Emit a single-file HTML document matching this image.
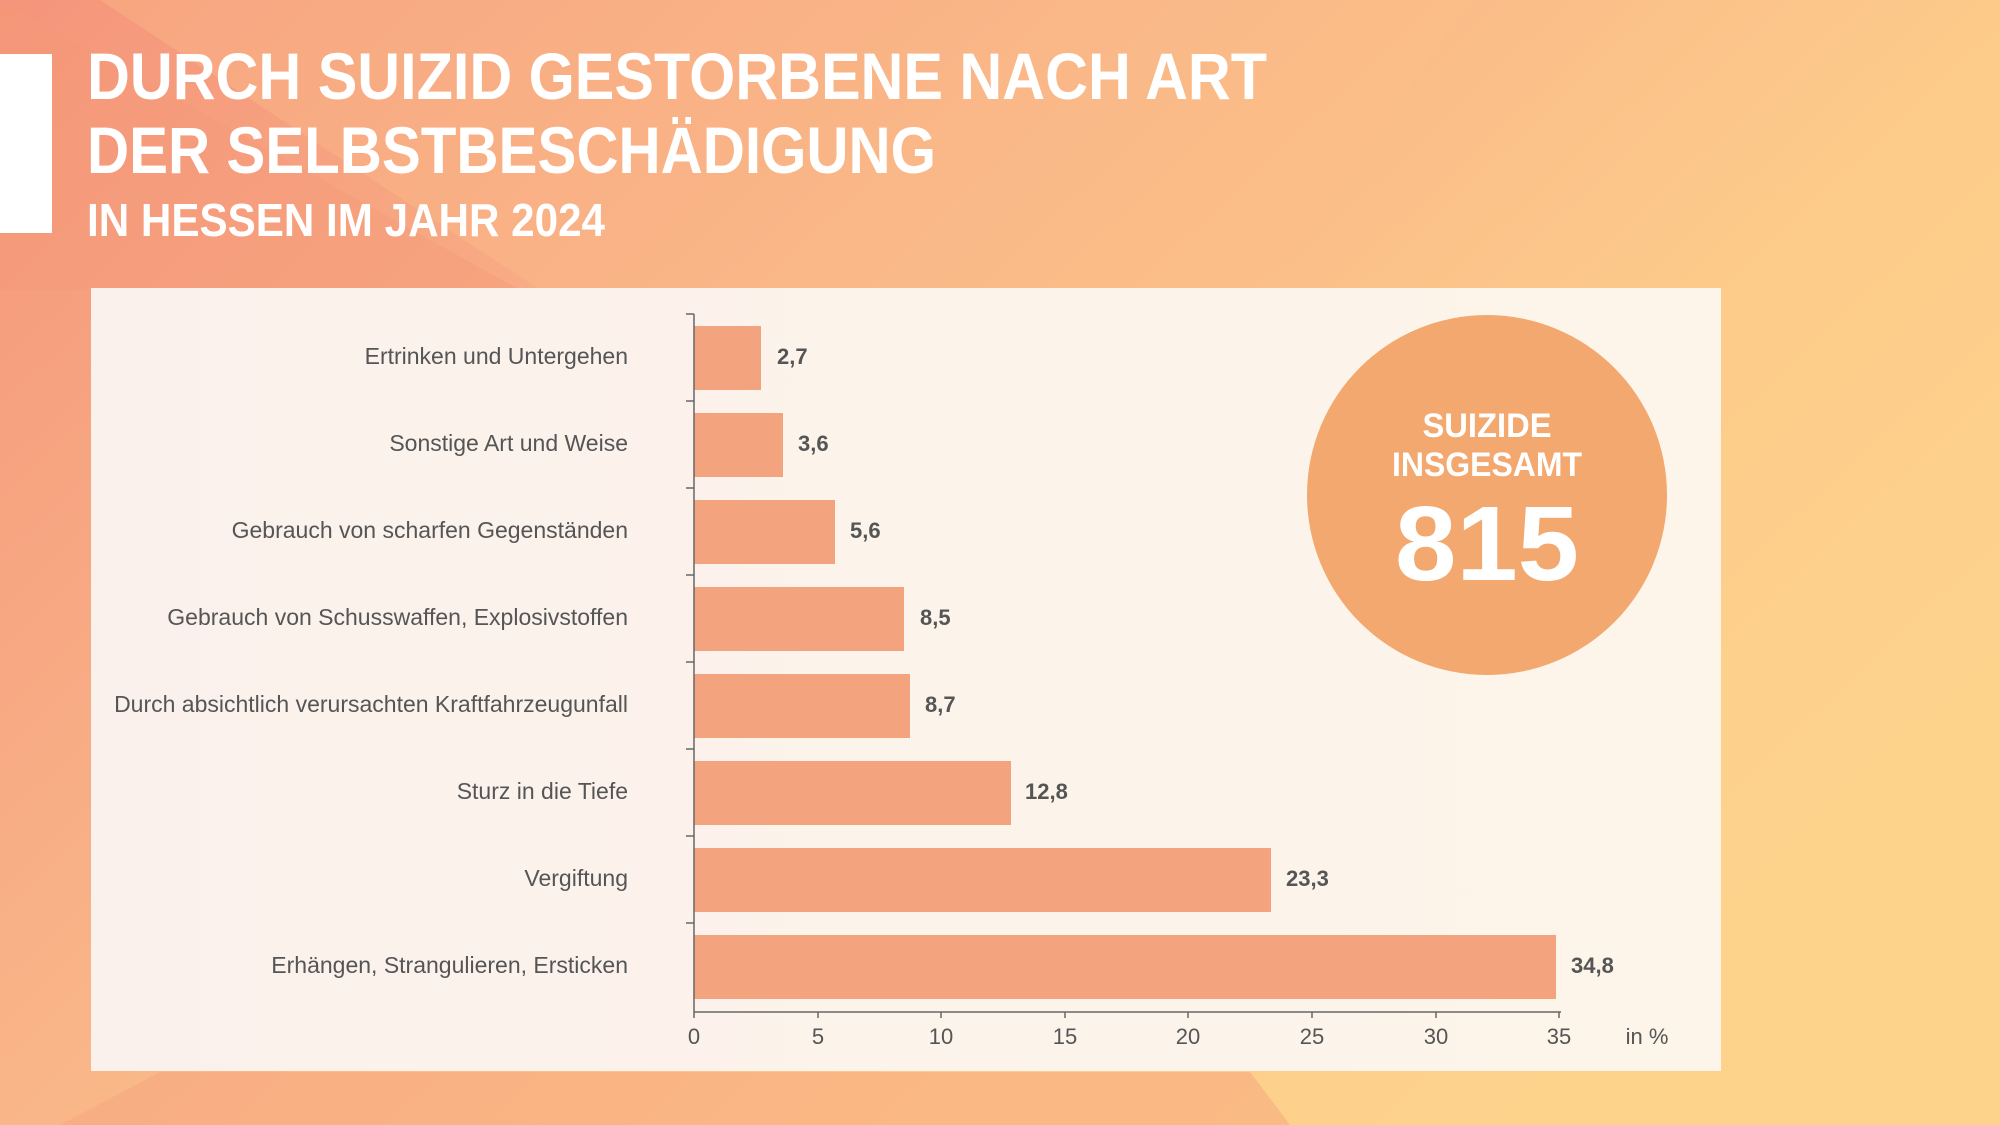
<!DOCTYPE html>
<html><head><meta charset="utf-8"><style>html,body{margin:0;padding:0;width:2000px;height:1125px;overflow:hidden}</style></head>
<body>
<svg width="2000" height="1125" viewBox="0 0 2000 1125" xmlns="http://www.w3.org/2000/svg" font-family="Liberation Sans, sans-serif">
<defs>
<linearGradient id="bg" x1="0" y1="0" x2="1" y2="0.6">
<stop offset="0" stop-color="#f5957b"/><stop offset="0.45" stop-color="#f9b688"/><stop offset="0.75" stop-color="#fdcb8a"/><stop offset="1" stop-color="#fdd38c"/></linearGradient>
<linearGradient id="pn" x1="0" y1="0" x2="1" y2="0">
<stop offset="0" stop-color="#fbf1ec"/><stop offset="1" stop-color="#fdf5ea"/></linearGradient>
</defs>
<rect width="2000" height="1125" fill="url(#bg)"/>
<polygon points="100,0 1470,0 1270,290 540,290" fill="#fbbf8a" opacity="0.35"/>
<polygon points="0,290 520,290 0,0" fill="#f59878" opacity="0.4"/>
<polygon points="60,1125 160,1072 1250,1072 1290,1125" fill="#f7a47d" opacity="0.5"/>
<rect x="0" y="54" width="52" height="179" fill="#fff"/>
<g fill="#fff" font-weight="bold">
<text x="87" y="99" font-size="66" textLength="1180" lengthAdjust="spacingAndGlyphs">DURCH SUIZID GESTORBENE NACH ART</text>
<text x="87" y="173" font-size="66" textLength="849" lengthAdjust="spacingAndGlyphs">DER SELBSTBESCHÄDIGUNG</text>
<text x="87" y="236" font-size="46" textLength="518" lengthAdjust="spacingAndGlyphs">IN HESSEN IM JAHR 2024</text>
</g>
<rect x="91" y="288" width="1630" height="783" fill="url(#pn)"/>
<g fill="#f4a37f">
<rect x="694" y="326" width="67" height="64"/>
<rect x="694" y="413" width="89" height="64"/>
<rect x="694" y="500" width="141" height="64"/>
<rect x="694" y="587" width="210" height="64"/>
<rect x="694" y="674" width="216" height="64"/>
<rect x="694" y="761" width="317" height="64"/>
<rect x="694" y="848" width="577" height="64"/>
<rect x="694" y="935" width="862" height="64"/>
</g>
<g stroke="#666" stroke-width="1.5">
<line x1="694" y1="314" x2="694" y2="1012"/>
<line x1="694" y1="1012" x2="1561" y2="1012"/>
<line x1="686" y1="314" x2="694" y2="314"/><line x1="686" y1="401" x2="694" y2="401"/><line x1="686" y1="488" x2="694" y2="488"/><line x1="686" y1="575" x2="694" y2="575"/><line x1="686" y1="662" x2="694" y2="662"/><line x1="686" y1="749" x2="694" y2="749"/><line x1="686" y1="836" x2="694" y2="836"/><line x1="686" y1="923" x2="694" y2="923"/>
<line x1="694" y1="1012" x2="694" y2="1018"/><line x1="818" y1="1012" x2="818" y2="1018"/><line x1="941" y1="1012" x2="941" y2="1018"/><line x1="1065" y1="1012" x2="1065" y2="1018"/><line x1="1188" y1="1012" x2="1188" y2="1018"/><line x1="1312" y1="1012" x2="1312" y2="1018"/><line x1="1436" y1="1012" x2="1436" y2="1018"/><line x1="1559" y1="1012" x2="1559" y2="1018"/>
</g>
<g fill="#555" font-size="23" text-anchor="end">
<text x="628" y="364">Ertrinken und Untergehen</text>
<text x="628" y="451">Sonstige Art und Weise</text>
<text x="628" y="538">Gebrauch von scharfen Gegenständen</text>
<text x="628" y="625">Gebrauch von Schusswaffen, Explosivstoffen</text>
<text x="628" y="712">Durch absichtlich verursachten Kraftfahrzeugunfall</text>
<text x="628" y="799">Sturz in die Tiefe</text>
<text x="628" y="886">Vergiftung</text>
<text x="628" y="973">Erhängen, Strangulieren, Ersticken</text>
</g>
<g fill="#555" font-size="22" font-weight="bold">
<text x="777" y="364">2,7</text>
<text x="798" y="451">3,6</text>
<text x="850" y="538">5,6</text>
<text x="920" y="625">8,5</text>
<text x="925" y="712">8,7</text>
<text x="1025" y="799">12,8</text>
<text x="1286" y="886">23,3</text>
<text x="1571" y="973">34,8</text>
</g>
<g fill="#555" font-size="22" text-anchor="middle">
<text x="694" y="1044">0</text><text x="818" y="1044">5</text><text x="941" y="1044">10</text><text x="1065" y="1044">15</text><text x="1188" y="1044">20</text><text x="1312" y="1044">25</text><text x="1436" y="1044">30</text><text x="1559" y="1044">35</text>
<text x="1647" y="1044">in %</text>
</g>
<circle cx="1487" cy="495" r="180" fill="#f2a86e"/>
<g fill="#fff" font-weight="bold" text-anchor="middle">
<text x="1487" y="437" font-size="34" textLength="129" lengthAdjust="spacingAndGlyphs">SUIZIDE</text>
<text x="1487" y="476" font-size="34" textLength="190" lengthAdjust="spacingAndGlyphs">INSGESAMT</text>
<text x="1487" y="580" font-size="106" textLength="184" lengthAdjust="spacingAndGlyphs">815</text>
</g>
</svg>
</body></html>
